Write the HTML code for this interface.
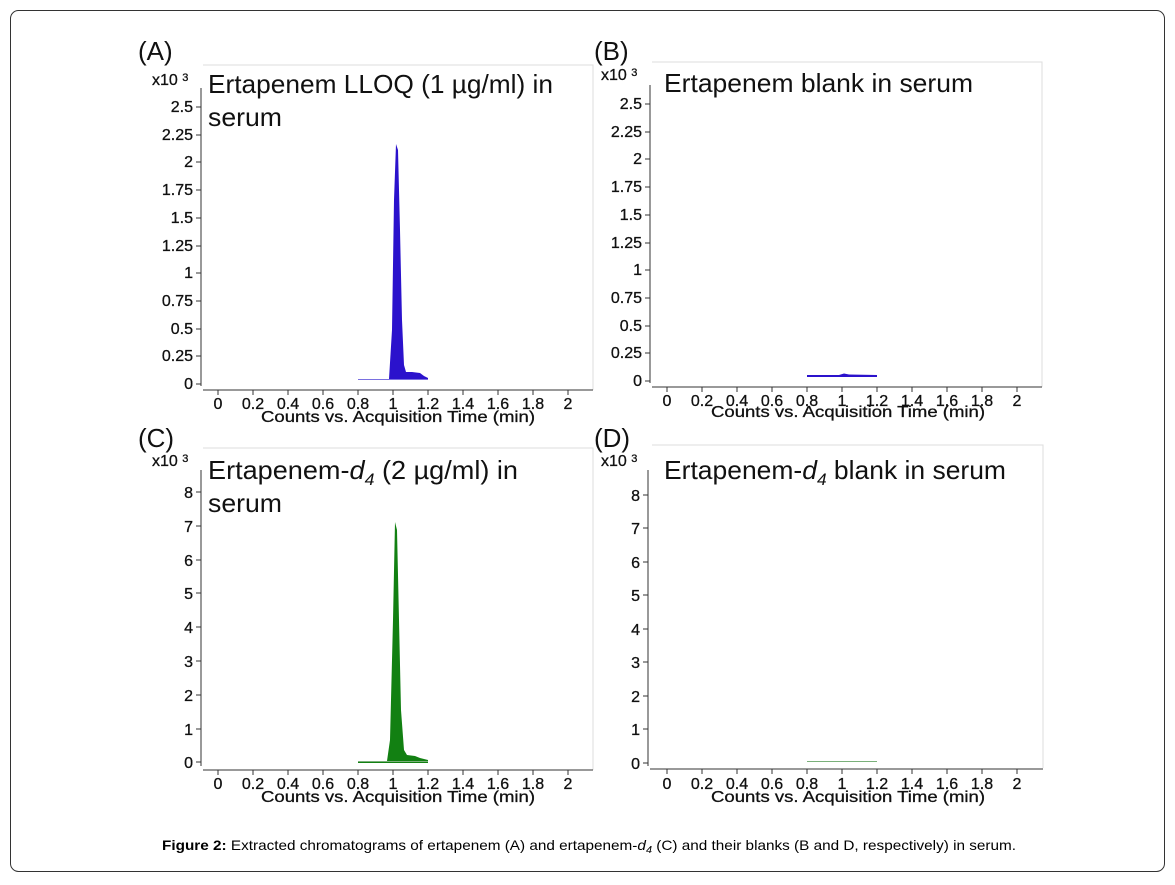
<!DOCTYPE html>
<html><head><meta charset="utf-8"><style>
body{margin:0;background:#fff;}
svg{display:block}
.t{font-family:"Liberation Sans",Arial,sans-serif;font-size:16px;fill:#111;stroke:#111;stroke-width:0.3}
.s{font-family:"Liberation Sans",Arial,sans-serif;font-size:26px;fill:#111}
.c{font-family:"Liberation Sans",Arial,sans-serif;font-size:14px;fill:#000}
</style></head><body>
<svg width="1175" height="885" viewBox="0 0 1175 885">
<rect x="10.5" y="10.5" width="1154" height="861" rx="8" fill="#fff" stroke="#333" stroke-width="1"/>

<!-- Panel A -->
<g>
<text class="s" x="138" y="60" font-size="28">(A)</text>
<polyline points="203,65 593,65 593,390" fill="none" stroke="#ddd"/>
<line x1="201" y1="88" x2="201" y2="386" stroke="#333"/>
<line x1="203" y1="390" x2="593" y2="390" stroke="#333"/>
<text class="t" x="152" y="85" font-size="13" stroke-width="0">x10 <tspan dy="-4" font-size="11">3</tspan></text>
<g text-anchor="end" class="t">
<text x="193" y="112">2.5</text><text x="193" y="140">2.25</text><text x="193" y="167">2</text><text x="193" y="195">1.75</text><text x="193" y="223">1.5</text><text x="193" y="251">1.25</text><text x="193" y="278">1</text><text x="193" y="306">0.75</text><text x="193" y="334">0.5</text><text x="193" y="361">0.25</text><text x="193" y="389">0</text>
</g>
<g stroke="#333"><line x1="196" y1="107" x2="201" y2="107"/><line x1="196" y1="135" x2="201" y2="135"/><line x1="196" y1="162" x2="201" y2="162"/><line x1="196" y1="190" x2="201" y2="190"/><line x1="196" y1="218" x2="201" y2="218"/><line x1="196" y1="246" x2="201" y2="246"/><line x1="196" y1="273" x2="201" y2="273"/><line x1="196" y1="301" x2="201" y2="301"/><line x1="196" y1="329" x2="201" y2="329"/><line x1="196" y1="356" x2="201" y2="356"/><line x1="196" y1="384" x2="201" y2="384"/></g>
<g stroke="#333"><line x1="218" y1="390" x2="218" y2="395"/><line x1="253" y1="390" x2="253" y2="395"/><line x1="288" y1="390" x2="288" y2="395"/><line x1="323" y1="390" x2="323" y2="395"/><line x1="358" y1="390" x2="358" y2="395"/><line x1="393" y1="390" x2="393" y2="395"/><line x1="428" y1="390" x2="428" y2="395"/><line x1="463" y1="390" x2="463" y2="395"/><line x1="498" y1="390" x2="498" y2="395"/><line x1="533" y1="390" x2="533" y2="395"/><line x1="568" y1="390" x2="568" y2="395"/></g>
<g class="t" text-anchor="middle"><text x="218" y="409">0</text><text x="253" y="409">0.2</text><text x="288" y="409">0.4</text><text x="323" y="409">0.6</text><text x="358" y="409">0.8</text><text x="393" y="409">1</text><text x="428" y="409">1.2</text><text x="463" y="409">1.4</text><text x="498" y="409">1.6</text><text x="533" y="409">1.8</text><text x="568" y="409">2</text></g>
<text class="t" x="261" y="422" textLength="274" lengthAdjust="spacingAndGlyphs">Counts vs. Acquisition Time (min)</text>
<text class="s" x="208" y="93" textLength="345" lengthAdjust="spacingAndGlyphs">Ertapenem LLOQ (1 µg/ml) in</text>
<text class="s" x="208" y="126" textLength="74" lengthAdjust="spacingAndGlyphs">serum</text>
<polygon points="358,379 389,379 392,330 394,200 396,144 398,150 400,230 402,320 404,365 406,372 412,372 420,373 424,376 428,378 428,380 358,380" fill="#2b12cc"/>
<line x1="358" y1="379.5" x2="428" y2="379.5" stroke="#7a70e0"/>
</g>

<!-- Panel B -->
<g transform="translate(449,-3)">
<text class="s" x="145" y="63" font-size="28">(B)</text>
<polyline points="203,65 593,65 593,390" fill="none" stroke="#ddd"/>
<line x1="201" y1="88" x2="201" y2="386" stroke="#333"/>
<line x1="203" y1="390" x2="593" y2="390" stroke="#333"/>
<text class="t" x="152" y="83" font-size="13" stroke-width="0">x10 <tspan dy="-4" font-size="11">3</tspan></text>
<g text-anchor="end" class="t">
<text x="193" y="112">2.5</text><text x="193" y="140">2.25</text><text x="193" y="167">2</text><text x="193" y="195">1.75</text><text x="193" y="223">1.5</text><text x="193" y="251">1.25</text><text x="193" y="278">1</text><text x="193" y="306">0.75</text><text x="193" y="334">0.5</text><text x="193" y="361">0.25</text><text x="193" y="389">0</text>
</g>
<g stroke="#333"><line x1="196" y1="107" x2="201" y2="107"/><line x1="196" y1="135" x2="201" y2="135"/><line x1="196" y1="162" x2="201" y2="162"/><line x1="196" y1="190" x2="201" y2="190"/><line x1="196" y1="218" x2="201" y2="218"/><line x1="196" y1="246" x2="201" y2="246"/><line x1="196" y1="273" x2="201" y2="273"/><line x1="196" y1="301" x2="201" y2="301"/><line x1="196" y1="329" x2="201" y2="329"/><line x1="196" y1="356" x2="201" y2="356"/><line x1="196" y1="384" x2="201" y2="384"/></g>
<g stroke="#333"><line x1="218" y1="390" x2="218" y2="395"/><line x1="253" y1="390" x2="253" y2="395"/><line x1="288" y1="390" x2="288" y2="395"/><line x1="323" y1="390" x2="323" y2="395"/><line x1="358" y1="390" x2="358" y2="395"/><line x1="393" y1="390" x2="393" y2="395"/><line x1="428" y1="390" x2="428" y2="395"/><line x1="463" y1="390" x2="463" y2="395"/><line x1="498" y1="390" x2="498" y2="395"/><line x1="533" y1="390" x2="533" y2="395"/><line x1="568" y1="390" x2="568" y2="395"/></g>
<g class="t" text-anchor="middle"><text x="218" y="409">0</text><text x="253" y="409">0.2</text><text x="288" y="409">0.4</text><text x="323" y="409">0.6</text><text x="358" y="409">0.8</text><text x="393" y="409">1</text><text x="428" y="409">1.2</text><text x="463" y="409">1.4</text><text x="498" y="409">1.6</text><text x="533" y="409">1.8</text><text x="568" y="409">2</text></g>
<text class="t" x="262" y="420" textLength="274" lengthAdjust="spacingAndGlyphs">Counts vs. Acquisition Time (min)</text>
<text class="s" x="215" y="95" textLength="309" lengthAdjust="spacingAndGlyphs">Ertapenem blank in serum</text>
<polygon points="358,378 390,378 395,376.5 400,377.5 428,378 428,380 358,380" fill="#2b12cc"/>
</g>

<!-- Panel C -->
<g>
<text class="s" x="138" y="447" font-size="28">(C)</text>
<polyline points="203,448 593,448 593,770" fill="none" stroke="#ddd"/>
<line x1="201" y1="470" x2="201" y2="766" stroke="#333"/>
<line x1="203" y1="770" x2="593" y2="770" stroke="#333"/>
<text class="t" x="152" y="466" font-size="13" stroke-width="0">x10 <tspan dy="-4" font-size="11">3</tspan></text>
<g text-anchor="end" class="t">
<text x="193" y="498">8</text><text x="193" y="532">7</text><text x="193" y="566">6</text><text x="193" y="599">5</text><text x="193" y="633">4</text><text x="193" y="667">3</text><text x="193" y="701">2</text><text x="193" y="735">1</text><text x="193" y="768">0</text>
</g>
<g stroke="#333"><line x1="196" y1="492" x2="201" y2="492"/><line x1="196" y1="526" x2="201" y2="526"/><line x1="196" y1="560" x2="201" y2="560"/><line x1="196" y1="593" x2="201" y2="593"/><line x1="196" y1="627" x2="201" y2="627"/><line x1="196" y1="661" x2="201" y2="661"/><line x1="196" y1="695" x2="201" y2="695"/><line x1="196" y1="729" x2="201" y2="729"/><line x1="196" y1="762" x2="201" y2="762"/></g>
<g stroke="#333"><line x1="218" y1="770" x2="218" y2="775"/><line x1="253" y1="770" x2="253" y2="775"/><line x1="288" y1="770" x2="288" y2="775"/><line x1="323" y1="770" x2="323" y2="775"/><line x1="358" y1="770" x2="358" y2="775"/><line x1="393" y1="770" x2="393" y2="775"/><line x1="428" y1="770" x2="428" y2="775"/><line x1="463" y1="770" x2="463" y2="775"/><line x1="498" y1="770" x2="498" y2="775"/><line x1="533" y1="770" x2="533" y2="775"/><line x1="568" y1="770" x2="568" y2="775"/></g>
<g class="t" text-anchor="middle"><text x="218" y="789">0</text><text x="253" y="789">0.2</text><text x="288" y="789">0.4</text><text x="323" y="789">0.6</text><text x="358" y="789">0.8</text><text x="393" y="789">1</text><text x="428" y="789">1.2</text><text x="463" y="789">1.4</text><text x="498" y="789">1.6</text><text x="533" y="789">1.8</text><text x="568" y="789">2</text></g>
<text class="t" x="261" y="802" textLength="274" lengthAdjust="spacingAndGlyphs">Counts vs. Acquisition Time (min)</text>
<text class="s" x="208" y="479" textLength="310" lengthAdjust="spacingAndGlyphs">Ertapenem-<tspan font-style="italic">d</tspan><tspan font-style="italic" font-size="17" dy="6">4</tspan><tspan dy="-6"> (2 µg/ml) in</tspan></text>
<text class="s" x="208" y="512" textLength="74" lengthAdjust="spacingAndGlyphs">serum</text>
<polygon points="358,761 387,761 390,740 393,620 395,522 397,530 399,620 401,710 404,750 407,755 415,756 420,758 428,760 428,763 358,763" fill="#128012"/>
<line x1="358" y1="761.5" x2="428" y2="761.5" stroke="#7ab07a"/>
</g>

<!-- Panel D -->
<g transform="translate(449,0)">
<text class="s" x="145" y="447" font-size="28">(D)</text>
<polyline points="203,445 594,445 594,768" fill="none" stroke="#ddd"/>
<line x1="199" y1="470" x2="199" y2="766" stroke="#333"/>
<line x1="201" y1="769" x2="594" y2="769" stroke="#333"/>
<text class="t" x="152" y="466" font-size="13" stroke-width="0">x10 <tspan dy="-4" font-size="11">3</tspan></text>
<g text-anchor="end" class="t">
<text x="191" y="501">8</text><text x="191" y="534">7</text><text x="191" y="568">6</text><text x="191" y="601">5</text><text x="191" y="635">4</text><text x="191" y="668">3</text><text x="191" y="702">2</text><text x="191" y="735">1</text><text x="191" y="769">0</text>
</g>
<g stroke="#333"><line x1="194" y1="495" x2="199" y2="495"/><line x1="194" y1="528" x2="199" y2="528"/><line x1="194" y1="562" x2="199" y2="562"/><line x1="194" y1="595" x2="199" y2="595"/><line x1="194" y1="629" x2="199" y2="629"/><line x1="194" y1="662" x2="199" y2="662"/><line x1="194" y1="696" x2="199" y2="696"/><line x1="194" y1="729" x2="199" y2="729"/><line x1="194" y1="763" x2="199" y2="763"/></g>
<g stroke="#333"><line x1="218" y1="769" x2="218" y2="774"/><line x1="253" y1="769" x2="253" y2="774"/><line x1="288" y1="769" x2="288" y2="774"/><line x1="323" y1="769" x2="323" y2="774"/><line x1="358" y1="769" x2="358" y2="774"/><line x1="393" y1="769" x2="393" y2="774"/><line x1="428" y1="769" x2="428" y2="774"/><line x1="463" y1="769" x2="463" y2="774"/><line x1="498" y1="769" x2="498" y2="774"/><line x1="533" y1="769" x2="533" y2="774"/><line x1="568" y1="769" x2="568" y2="774"/></g>
<g class="t" text-anchor="middle"><text x="218" y="789">0</text><text x="253" y="789">0.2</text><text x="288" y="789">0.4</text><text x="323" y="789">0.6</text><text x="358" y="789">0.8</text><text x="393" y="789">1</text><text x="428" y="789">1.2</text><text x="463" y="789">1.4</text><text x="498" y="789">1.6</text><text x="533" y="789">1.8</text><text x="568" y="789">2</text></g>
<text class="t" x="262" y="802" textLength="274" lengthAdjust="spacingAndGlyphs">Counts vs. Acquisition Time (min)</text>
<text class="s" x="215" y="479" textLength="342" lengthAdjust="spacingAndGlyphs">Ertapenem-<tspan font-style="italic">d</tspan><tspan font-style="italic" font-size="17" dy="6">4</tspan><tspan dy="-6"> blank in serum</tspan></text>
<line x1="358" y1="761.5" x2="428" y2="761.5" stroke="#7ab07a"/>
</g>

<text class="c" x="162" y="850" textLength="854" lengthAdjust="spacingAndGlyphs"><tspan font-weight="bold">Figure 2:</tspan> Extracted chromatograms of ertapenem (A) and ertapenem-<tspan font-style="italic">d</tspan><tspan font-style="italic" font-size="10" dy="3">4</tspan><tspan dy="-3"> (C) and their blanks (B and D, respectively) in serum.</tspan></text>
</svg>
</body></html>
